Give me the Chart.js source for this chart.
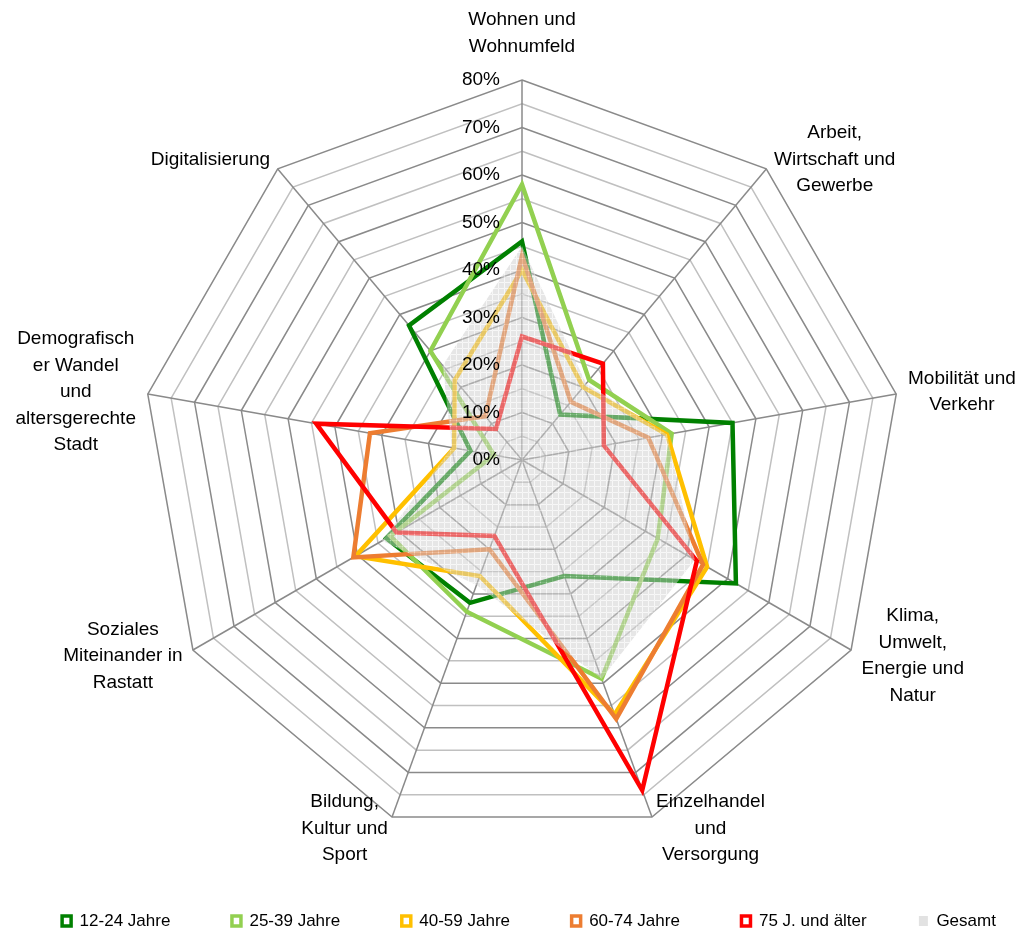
<!DOCTYPE html>
<html>
<head>
<meta charset="utf-8">
<title>Radar</title>
<script src="https://cdn.jsdelivr.net/npm/chart.js@4/dist/chart.umd.min.js"></script>
<style>
    html, body { margin: 0; padding: 0; background: #fff; overflow: hidden; }
    #wrap { width: 1024px; height: 932px; }
</style>
</head>
<body>
<div id="wrap"><canvas id="chart" width="1024" height="932"></canvas></div>
<script>
// Achsen (Themenfelder), mehrzeilig wie im Original
var categories = [
    ["Wohnen und", "Wohnumfeld"],
    ["Arbeit,", "Wirtschaft und", "Gewerbe"],
    ["Mobilität und", "Verkehr"],
    ["Klima,", "Umwelt,", "Energie und", "Natur"],
    ["Einzelhandel", "und", "Versorgung"],
    ["Bildung,", "Kultur und", "Sport"],
    ["Soziales", "Miteinander in", "Rastatt"],
    ["Demografisch", "er Wandel", "und", "altersgerechte", "Stadt"],
    ["Digitalisierung"]
];

// Werte in Prozent, Reihenfolge wie categories
var values1224 = [46, 12.5, 45, 52, 26, 32, 33, 11, 37];
var values2539 = [58, 22, 32, 33, 49, 34, 32, 6, 30];
var values4059 = [40, 20, 31, 45, 57, 26, 40.5, 14.5, 22];
var values6074 = [43, 16, 27, 44, 58, 20, 41, 32.5, 12];
var values75 = [26, 26.5, 17.5, 42.5, 74, 17, 30.5, 44, 8.5];
var valuesGesamt = [45, 21, 31, 42, 49, 28, 34, 15, 26];

var seriesNames = ["12-24 Jahre", "25-39 Jahre", "40-59 Jahre", "60-74 Jahre", "75 J. und älter", "Gesamt"];
var seriesColors = ["#008000", "#92D050", "#FFC000", "#ED7D31", "#FF0000"];

// Skalenbeschriftung
var tickValues = [0, 10, 20, 30, 40, 50, 60, 70, 80];

var fontFamily = '"Liberation Sans", Arial, sans-serif';
var labelSize = 19;
var labelLineHeight = 26.5;

// Abstand hinter den Legendeneinträgen (Excel verteilt sie über die ganze Breite)
var legendGaps = ["     ", "     ", "     ", "     ", "   ", ""];

// graue Fläche mit hellem Gittermuster (halbtransparent)
function makePattern() {
    var c = document.createElement("canvas");
    c.width = 6;
    c.height = 6;
    var g = c.getContext("2d");
    g.fillStyle = "rgba(205,205,205,0.5)";
    g.fillRect(0, 0, 6, 6);
    g.clearRect(0, 0, 6, 1);
    g.clearRect(0, 0, 1, 6);
    g.fillStyle = "rgba(240,240,240,0.5)";
    g.fillRect(0, 0, 6, 1);
    g.fillRect(0, 0, 1, 6);
    return g.createPattern(c, "repeat");
}

// Mittelpunkt / Radius wie im Original festlegen
var radarLayout = {
    id: "radarLayout",
    afterLayout: function(chart) {
        var r = chart.scales.r;
        r.xCenter = 522;
        r.yCenter = 460;
        r.drawingArea = 380;
        // Legende etwas tiefer und nach rechts
        chart.legend.top += 7.5;
        chart.legend.bottom += 7.5;
        chart.legend.left += 17;
        chart.legend.right += 17;
    }
};

// Prozentwerte und Achsentitel
var radarText = {
    id: "radarText",
    afterDatasetsDraw: function(chart) {
        var r = chart.scales.r;
        var ctx = chart.ctx;
        ctx.save();
        ctx.font = labelSize + "px " + fontFamily;
        ctx.fillStyle = "#000";
        ctx.textBaseline = "middle";

        ctx.textAlign = "right";
        tickValues.forEach(function(v) {
            var y = r.yCenter - r.getDistanceFromCenterForValue(v);
            ctx.fillText(v + "%", r.xCenter - 22, y);
        });

        ctx.textAlign = "center";
        categories.forEach(function(lines, i) {
            var deg = i * 360 / categories.length;
            var pad = i === 0 ? 20 : 12;
            var p = r.getPointPosition(i, r.drawingArea + pad);
            var w = 0;
            lines.forEach(function(t) { w = Math.max(w, ctx.measureText(t).width); });
            var h = lines.length * labelLineHeight;
            var cx = p.x;
            var top;
            if (deg === 0) {
                top = p.y - h;
            } else {
                top = p.y - h / 2;
                cx = deg < 180 ? p.x + w / 2 : p.x - w / 2;
            }
            lines.forEach(function(t, k) {
                ctx.fillText(t, cx, top + labelLineHeight * (k + 0.5));
            });
        });
        ctx.restore();
    }
};

function createChart() {
    var ctx = document.getElementById("chart").getContext("2d");
    var allValues = [values1224, values2539, values4059, values6074, values75];

    var datasets = [];
    allValues.forEach(function(vals, i) {
        datasets.push({
            label: seriesNames[i],
            data: vals,
            borderColor: seriesColors[i],
            backgroundColor: "#fff",
            borderWidth: 4.5,
            borderJoinStyle: "miter",
            fill: false,
            pointRadius: 0,
            pointHoverRadius: 0,
            clip: false,
            order: 5 - i
        });
    });
    datasets.push({
        label: seriesNames[5],
        data: valuesGesamt,
        backgroundColor: makePattern(),
        borderColor: "rgba(0,0,0,0)",
        borderWidth: 0,
        fill: "origin",
        pointRadius: 0,
        pointHoverRadius: 0,
        clip: false,
        order: 0
    });

    Chart.defaults.font.family = fontFamily;

    new Chart(ctx, {
        type: "radar",
        data: {
            labels: categories.map(function(l) { return l.join(" "); }),
            datasets: datasets
        },
        options: {
            responsive: false,
            animation: false,
            layout: { padding: 0 },
            scales: {
                r: {
                    min: 0,
                    max: 80,
                    ticks: { display: false, stepSize: 5 },
                    pointLabels: { display: false },
                    grid: {
                        color: function(c) { return c.tick && c.tick.value % 10 === 0 ? "#8a8a8a" : "#c0c0c0"; },
                        lineWidth: 1.5
                    },
                    angleLines: { color: "#8a8a8a", lineWidth: 1.5 }
                }
            },
            plugins: {
                tooltip: { enabled: false },
                legend: {
                    position: "bottom",
                    labels: {
                        font: { size: 17, family: fontFamily },
                        color: "#000",
                        boxWidth: 9,
                        boxHeight: 10,
                        padding: 38,
                        generateLabels: function(chart) {
                            return chart.data.datasets.map(function(ds, i) {
                                return {
                                    text: ds.label + legendGaps[i],
                                    fillStyle: i < 5 ? "#fff" : "#e2e2e2",
                                    strokeStyle: i < 5 ? ds.borderColor : "rgba(0,0,0,0)",
                                    lineWidth: i < 5 ? 3.5 : 0,
                                    fontColor: "#000",
                                    hidden: false,
                                    datasetIndex: i
                                };
                            });
                        }
                    }
                }
            }
        },
        plugins: [radarLayout, radarText]
    });
}

createChart();
</script>
</body>
</html>
